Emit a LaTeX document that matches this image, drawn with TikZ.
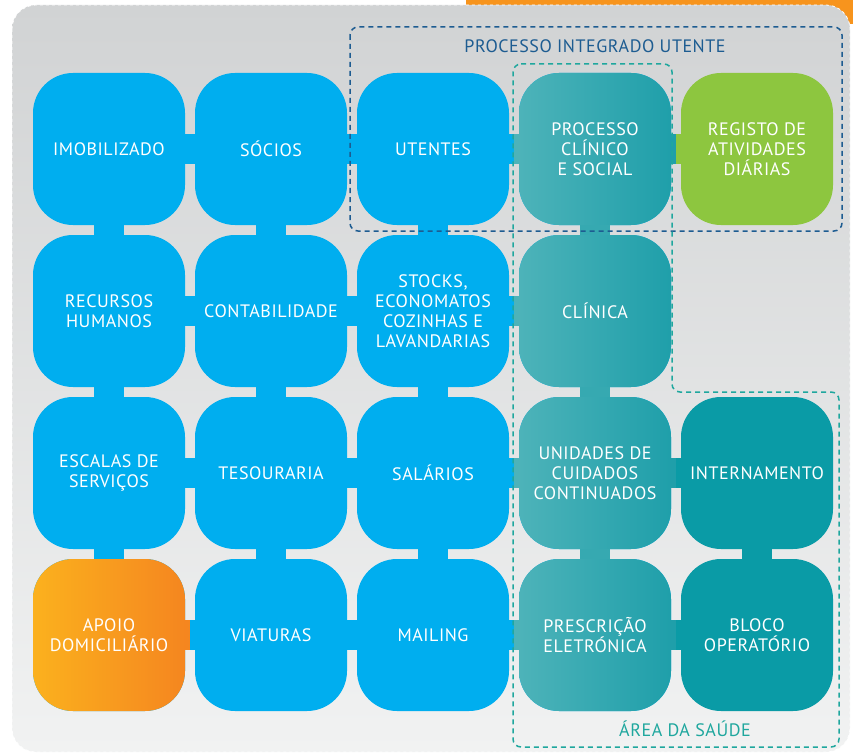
\documentclass[tikz,border=0pt]{standalone}
\usepackage{fontspec}
\usepackage{tikz}
\usepackage{xcolor}
\usetikzlibrary{calc}

\newfontfamily\tilefont[LetterSpace=3]{PT Sans}

\definecolor{tileblue}{HTML}{00AEEF}
\definecolor{tealL}{HTML}{4DB3B9}
\definecolor{tealR}{HTML}{1F9FAA}
\definecolor{tealD}{HTML}{0A9BA6}
\definecolor{tileGreen}{HTML}{8DC63F}
\definecolor{orangeL}{HTML}{FBB11E}
\definecolor{orangeR}{HTML}{F5861F}
\definecolor{banner}{HTML}{F7941D}
\definecolor{grayTop}{HTML}{D1D3D4}
\definecolor{grayBot}{HTML}{F1F2F2}
\definecolor{piublue}{HTML}{1D5C91}
\definecolor{saude}{HTML}{1FA79E}
\colorlet{tealM}{tealL!50!tealR}

\tikzset{
  tile/.style={rounded corners=40pt, minimum width=152pt, minimum height=152pt,
    inner sep=0pt, text=white, align=center, fill=tileblue,
    font=\tilefont\fontsize{18}{20}\selectfont},
  tealtile/.style={tile, left color=tealL, right color=tealR},
  link/.style={line width=30pt},
  boxline/.style={line width=1.5pt, dash pattern=on 5pt off 4pt, rounded corners=8pt}
}

\begin{document}
\begin{tikzpicture}[x=1pt, y=-1pt]
        \useasboundingbox (0,0) rectangle (853,754);
        % background
        \fill[banner, rounded corners=12pt] (466,-20) rectangle (890,24);
        \shade[top color=grayTop, bottom color=grayBot, rounded corners=24pt] (12,5) rectangle (850,752);
        \draw[white, dashed, line width=0.8pt, rounded corners=24pt] (12,5) rectangle (850,752);

        % tiles
        \node[tile] (imob) at (109,149) {IMOBILIZADO};
        \node[tile] (socios) at (271,149) {SÓCIOS};
        \node[tile] (utentes) at (433,149) {UTENTES};
        \node[tealtile] (processo) at (595,149) {PROCESSO\\CLÍNICO\\E SOCIAL};
        \node[tile, fill=tileGreen] (registo) at (757,149) {REGISTO DE\\ATIVIDADES\\DIÁRIAS};

        \node[tile] (rh) at (109,311) {RECURSOS\\HUMANOS};
        \node[tile] (contab) at (271,311) {CONTABILIDADE};
        \node[tile] (stocks) at (433,311) {STOCKS,\\ECONOMATOS\\COZINHAS E\\LAVANDARIAS};
        \node[tealtile] (clinica) at (595,311) {CLÍNICA};

        \node[tile] (escalas) at (109,473) {ESCALAS DE\\SERVIÇOS};
        \node[tile] (tesouraria) at (271,473) {TESOURARIA};
        \node[tile] (salarios) at (433,473) {SALÁRIOS};
        \node[tealtile] (unidades) at (595,473) {UNIDADES DE\\CUIDADOS\\CONTINUADOS};
        \node[tile, fill=tealD] (internamento) at (757,473) {INTERNAMENTO};

        \node[tile, left color=orangeL, right color=orangeR] (apoio) at (109,635) {APOIO\\DOMICILIÁRIO};
        \node[tile] (viaturas) at (271,635) {VIATURAS};
        \node[tile] (mailing) at (433,635) {MAILING};
        \node[tealtile] (prescricao) at (595,635) {PRESCRIÇÃO\\ELETRÓNICA};
        \node[tile, fill=tealD] (bloco) at (757,635) {BLOCO\\OPERATÓRIO};

        % links across
        \draw[link, tileblue] (imob) -- (socios);
        \draw[link, tileblue] (socios) -- (utentes);
        \draw[link, tileblue] (utentes) -- ($(utentes)!.5!(processo)$);
        \draw[link, tealL] ($(utentes)!.5!(processo)$) -- (processo);
        \draw[link, tealR] (processo) -- ($(processo)!.5!(registo)$);
        \draw[link, tileGreen] ($(processo)!.5!(registo)$) -- (registo);

        \draw[link, tileblue] (rh) -- (contab);
        \draw[link, tileblue] (contab) -- (stocks);
        \draw[link, tileblue] (stocks) -- ($(stocks)!.5!(clinica)$);
        \draw[link, tealL] ($(stocks)!.5!(clinica)$) -- (clinica);

        \draw[link, tileblue] (escalas) -- (tesouraria);
        \draw[link, tileblue] (tesouraria) -- (salarios);
        \draw[link, tileblue] (salarios) -- ($(salarios)!.5!(unidades)$);
        \draw[link, tealL] ($(salarios)!.5!(unidades)$) -- (unidades);
        \draw[link, tealR] (unidades) -- ($(unidades)!.5!(internamento)$);
        \draw[link, tealD] ($(unidades)!.5!(internamento)$) -- (internamento);

        \draw[link, orangeR] (apoio) -- ($(apoio)!.5!(viaturas)$);
        \draw[link, tileblue] ($(apoio)!.5!(viaturas)$) -- (viaturas);
        \draw[link, tileblue] (viaturas) -- (mailing);
        \draw[link, tileblue] (mailing) -- ($(mailing)!.5!(prescricao)$);
        \draw[link, tealL] ($(mailing)!.5!(prescricao)$) -- (prescricao);
        \draw[link, tealR] (prescricao) -- ($(prescricao)!.5!(bloco)$);
        \draw[link, tealD] ($(prescricao)!.5!(bloco)$) -- (bloco);

        % links down
        \draw[link, tileblue] (imob) -- (rh);
        \draw[link, tileblue] (rh) -- (escalas);
        \draw[link, tileblue] (escalas) -- (apoio);
        \draw[link, tileblue] (socios) -- (contab);
        \draw[link, tileblue] (contab) -- (tesouraria);
        \draw[link, tileblue] (tesouraria) -- (viaturas);
        \draw[link, tileblue] (utentes) -- (stocks);
        \draw[link, tileblue] (stocks) -- (salarios);
        \draw[link, tileblue] (salarios) -- (mailing);
        \draw[link, tealM] (processo) -- (clinica);
        \draw[link, tealM] (clinica) -- (unidades);
        \draw[link, tealM] (unidades) -- (prescricao);
        \draw[link, tealD] (internamento) -- (bloco);

        % groups
        \draw[boxline, piublue] (350,27) rectangle (842,231);
        \node[text=piublue, font=\tilefont\fontsize{18}{20}\selectfont] (piu) at (595,46) {PROCESSO INTEGRADO UTENTE};
        \draw[boxline, saude] (513,64) -- (672,64) -- (672,392) -- (839,392) -- (839,747) -- (513,747) -- cycle;
        \node[text=saude, font=\tilefont\fontsize{18}{20}\selectfont] (area) at (685,729) {ÁREA DA SAÚDE};
    \end{tikzpicture}
\end{document}
